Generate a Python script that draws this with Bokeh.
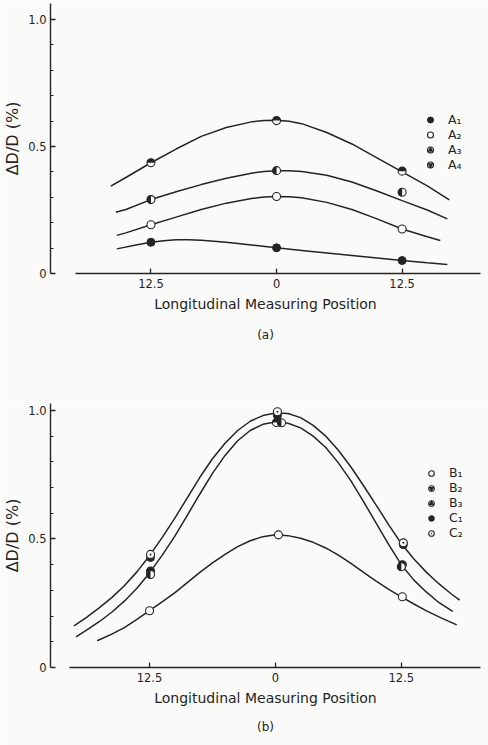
import numpy as np
from bokeh.plotting import figure
from bokeh.models import Range1d, FixedTicker, Legend, LegendItem, Title, ColumnDataSource
from bokeh.layouts import column
from bokeh.embed import file_html
from bokeh.resources import INLINE

# ---------------- data ----------------
x_ticks = [-12.5, 0.0, 12.5]
x_tick_labels = ["12.5", "0", "12.5"]
y_ticks = [0.0, 0.5, 1.0]
y_tick_labels = ["0", "0.5", "1.0"]
y_minor_ticks = [0.1, 0.2, 0.3, 0.4, 0.6, 0.7, 0.8, 0.9]

# panel (a) measured points
pos_a = [-12.5, 0.0, 12.5]
a1 = [0.123, 0.101, 0.051]
a2 = [0.192, 0.303, 0.175]
a3 = [0.291, 0.405, 0.320]
a4 = [0.436, 0.602, 0.403]

# panel (a) fitted curves
cx_a1 = [-15.9, -14, -12.5, -11.25, -10, -8.75, -7.5, -5, -2.5, 0, 2.5, 5, 7.5, 10, 12.5, 15, 17]
cy_a1 = [0.097, 0.112, 0.123, 0.129, 0.133, 0.133, 0.131, 0.123, 0.112, 0.101, 0.091, 0.081, 0.071, 0.061, 0.051, 0.042, 0.035]
cx_a2 = [-15.9, -15, -12.5, -10, -7.5, -5, -2.5, -1.25, 0, 1.25, 2.5, 5, 7.5, 10, 12.5, 15, 16.3]
cy_a2 = [0.150, 0.160, 0.192, 0.222, 0.252, 0.277, 0.295, 0.301, 0.303, 0.302, 0.298, 0.280, 0.252, 0.215, 0.175, 0.145, 0.130]
cx_a3 = [-16, -15, -12.5, -10, -7.5, -5, -2.5, -1.25, 0, 1.25, 2.5, 5, 7.5, 10, 12.5, 15, 17]
cy_a3 = [0.241, 0.252, 0.291, 0.322, 0.350, 0.375, 0.395, 0.402, 0.405, 0.405, 0.402, 0.387, 0.360, 0.325, 0.287, 0.250, 0.215]
cx_a4 = [-16.5, -15, -12.5, -10, -7.5, -5, -2.5, -1.25, 0, 1.25, 2.5, 5, 7.5, 10, 12.5, 15, 17.2]
cy_a4 = [0.344, 0.378, 0.436, 0.490, 0.540, 0.575, 0.597, 0.602, 0.603, 0.599, 0.590, 0.555, 0.510, 0.455, 0.400, 0.345, 0.290]

# panel (b) measured points
b1_x = [-12.5, 0.3, 12.6]
b1 = [0.221, 0.516, 0.275]
b2_x = [-12.4, 0.1, 12.6]
b2 = [0.375, 0.953, 0.400]
b3_x = [-12.4, 0.6, 12.5]
b3 = [0.362, 0.952, 0.392]
c1_x = [-12.4, 0.2, 12.7]
c1 = [0.428, 0.980, 0.478]
c2_x = [-12.4, 0.2, 12.7]
c2 = [0.440, 0.995, 0.485]

# panel (b) fitted curves
cx_top = [-20, -18.75, -17.5, -16.25, -15, -13.75, -12.5, -11.25, -10, -8.75, -7.5, -6.25, -5,
          -3.75, -2.5, -1.25, 0, 1.25, 2.5, 3.75, 5, 6.25, 7.5, 8.75, 10, 11.25, 12.5, 13.75,
          15, 16.25, 17.5, 18.3]
cy_top = [0.162, 0.195, 0.232, 0.272, 0.318, 0.372, 0.435, 0.505, 0.580, 0.660, 0.740, 0.812, 0.872,
          0.922, 0.958, 0.980, 0.990, 0.988, 0.972, 0.942, 0.900, 0.845, 0.780, 0.707, 0.632, 0.555,
          0.482, 0.422, 0.370, 0.325, 0.285, 0.262]
cx_mid = [-19.8, -18.75, -17.5, -16.25, -15, -13.75, -12.5, -11.25, -10, -8.75, -7.5, -6.25, -5,
          -3.75, -2.5, -1.25, 0, 1.25, 2.5, 3.75, 5, 6.25, 7.5, 8.75, 10, 11.25, 12.5, 13.75,
          15, 16.25, 17.6]
cy_mid = [0.119, 0.145, 0.178, 0.215, 0.258, 0.308, 0.368, 0.436, 0.510, 0.592, 0.675, 0.755, 0.825,
          0.882, 0.922, 0.946, 0.955, 0.950, 0.932, 0.900, 0.856, 0.796, 0.726, 0.645, 0.562, 0.478,
          0.400, 0.340, 0.293, 0.252, 0.218]
cx_low = [-17.7, -16.25, -15, -13.75, -12.5, -11.25, -10, -8.75, -7.5, -6.25, -5, -3.75, -2.5,
          -1.25, 0, 1.25, 2.5, 3.75, 5, 6.25, 7.5, 8.75, 10, 11.25, 12.5, 13.75, 15, 16.5, 18]
cy_low = [0.104, 0.130, 0.155, 0.187, 0.221, 0.255, 0.290, 0.330, 0.370, 0.407, 0.440, 0.470, 0.493,
          0.509, 0.516, 0.513, 0.503, 0.487, 0.465, 0.437, 0.405, 0.370, 0.336, 0.304, 0.275, 0.247,
          0.220, 0.192, 0.166]

# ---------------- style ----------------
INK = "#242424"
BG = "#fafaf8"
FONT = "DejaVu Sans"
MSIZE = 8
NAN = float("nan")


def make_fig(height, top, left, xr, yend, xbounds, bottom, caption, cap_standoff, cap_offset):
    p = figure(width=488, height=height, x_range=Range1d(*xr), y_range=Range1d(0, yend),
               output_backend="svg", toolbar_location=None,
               min_border_left=left, min_border_right=8, min_border_top=top,
               min_border_bottom=bottom, background_fill_color=BG, border_fill_color=BG,
               outline_line_color=None)
    p.grid.visible = False
    xa = p.xaxis[0]
    xa.ticker = FixedTicker(ticks=x_ticks, minor_ticks=[])
    xa.major_label_overrides = dict(zip(x_ticks, x_tick_labels))
    xa.bounds = xbounds
    xa.major_tick_in = 5
    xa.major_tick_out = 0
    xa.minor_tick_in = 0
    xa.minor_tick_out = 0
    xa.axis_line_color = INK
    xa.axis_line_width = 1.4
    xa.major_tick_line_color = INK
    xa.major_tick_line_width = 1.3
    xa.major_label_standoff = 5
    xa.major_label_text_font = FONT
    xa.major_label_text_font_size = "11.5px"
    xa.major_label_text_color = INK
    xa.axis_label = "Longitudinal Measuring Position"
    xa.axis_label_text_font = FONT
    xa.axis_label_text_font_size = "14px"
    xa.axis_label_text_font_style = "normal"
    xa.axis_label_text_color = INK
    xa.axis_label_standoff = 5

    ya = p.yaxis[0]
    ya.ticker = FixedTicker(ticks=y_ticks, minor_ticks=y_minor_ticks)
    ya.major_label_overrides = dict(zip(y_ticks, y_tick_labels))
    ya.major_tick_in = 5
    ya.major_tick_out = 0
    ya.minor_tick_in = 3
    ya.minor_tick_out = 0
    ya.axis_line_color = INK
    ya.axis_line_width = 1.4
    ya.major_tick_line_color = INK
    ya.minor_tick_line_color = INK
    ya.major_tick_line_width = 1.3
    ya.minor_tick_line_width = 1.2
    ya.major_label_standoff = 4
    ya.major_label_text_font = FONT
    ya.major_label_text_font_size = "11.5px"
    ya.major_label_text_color = INK
    ya.axis_label = "ΔD/D (%)"
    ya.axis_label_text_font = FONT
    ya.axis_label_text_font_size = "16px"
    ya.axis_label_text_font_style = "normal"
    ya.axis_label_text_color = INK
    ya.axis_label_standoff = 3

    p.add_layout(Title(text=caption, align="center", text_font=FONT, text_font_size="12px",
                       text_font_style="normal", text_color=INK, standoff=cap_standoff,
                       offset=cap_offset), "below")
    return p


def curve(p, xs, ys):
    p.line(xs, ys, line_color=INK, line_width=1.5)


def full(p, xs, ys):
    return p.scatter(xs, ys, size=MSIZE, fill_color=INK, line_color=INK, line_width=1)


def hollow(p, xs, ys, marker="circle"):
    return p.scatter(xs, ys, size=MSIZE, marker=marker, fill_color=BG, line_color=INK, line_width=1.1)


def half(p, xs, ys, start, end, proxy_marker, proxy_angle):
    src = ColumnDataSource(dict(x=xs, y=ys))
    r = p.scatter("x", "y", source=src, size=MSIZE, fill_color=BG, line_color=INK, line_width=1.1)
    p.wedge("x", "y", source=src, radius=4, radius_units="screen", start_angle=start,
            end_angle=end, fill_color=INK, line_color=None)
    # legend-only stand-in for the half-filled symbol (never drawn in the plot area)
    proxy = p.scatter(x=[NAN], y=[NAN], marker=proxy_marker, angle=proxy_angle, size=MSIZE,
                      fill_color=INK, line_color=None)
    return [r, proxy]


def legend(p, items, loc, row):
    lg = Legend(items=items, location=loc, margin=0, padding=0, spacing=0,
                glyph_width=16, glyph_height=row, label_height=row, label_standoff=10,
                border_line_color=None, background_fill_alpha=0,
                label_text_font=FONT, label_text_font_size="12.5px", label_text_color=INK)
    p.add_layout(lg)


# ---------------- panel (a) ----------------
pa = make_fig(403, 3, 50, (-22.5, 20.3), 1.063, (-20.0, 20.3), 130, "(a)", 23, 11)
for cx, cy in [(cx_a1, cy_a1), (cx_a2, cy_a2), (cx_a3, cy_a3), (cx_a4, cy_a4)]:
    curve(pa, cx, cy)
ra1 = full(pa, pos_a, a1)
ra2 = hollow(pa, pos_a, a2)
ra3 = half(pa, pos_a, a3, np.pi / 2, 3 * np.pi / 2, "triangle", -np.pi / 2)
ra4 = half(pa, pos_a, a4, 0, np.pi, "inverted_triangle", 0)
legend(pa, [LegendItem(label="A₁", renderers=[ra1]),
            LegendItem(label="A₂", renderers=[ra2]),
            LegendItem(label="A₃", renderers=ra3),
            LegendItem(label="A₄", renderers=ra4)], (372, 101), 15)

# ---------------- panel (b) ----------------
pb = make_fig(342, 0, 48, (-22.33, 20.36), 1.027, (-20.45, 20.36), 78, "(b)", 18, 10)
for cx, cy in [(cx_top, cy_top), (cx_mid, cy_mid), (cx_low, cy_low)]:
    curve(pb, cx, cy)
rb1 = hollow(pb, b1_x, b1)
rb2 = half(pb, b2_x, b2, 0, np.pi, "inverted_triangle", 0)
rb3 = half(pb, b3_x, b3, np.pi / 2, 3 * np.pi / 2, "triangle", -np.pi / 2)
rc1 = full(pb, c1_x, c1)
rc2 = hollow(pb, c2_x, c2, marker="circle_dot")
legend(pb, [LegendItem(label="B₁", renderers=[rb1]),
            LegendItem(label="B₂", renderers=rb2),
            LegendItem(label="B₃", renderers=rb3),
            LegendItem(label="C₁", renderers=[rc1]),
            LegendItem(label="C₂", renderers=[rc2])], (373, 127), 14)

layout = column(pa, pb, spacing=0)
open("out.html", "w").write(file_html(layout, INLINE))
